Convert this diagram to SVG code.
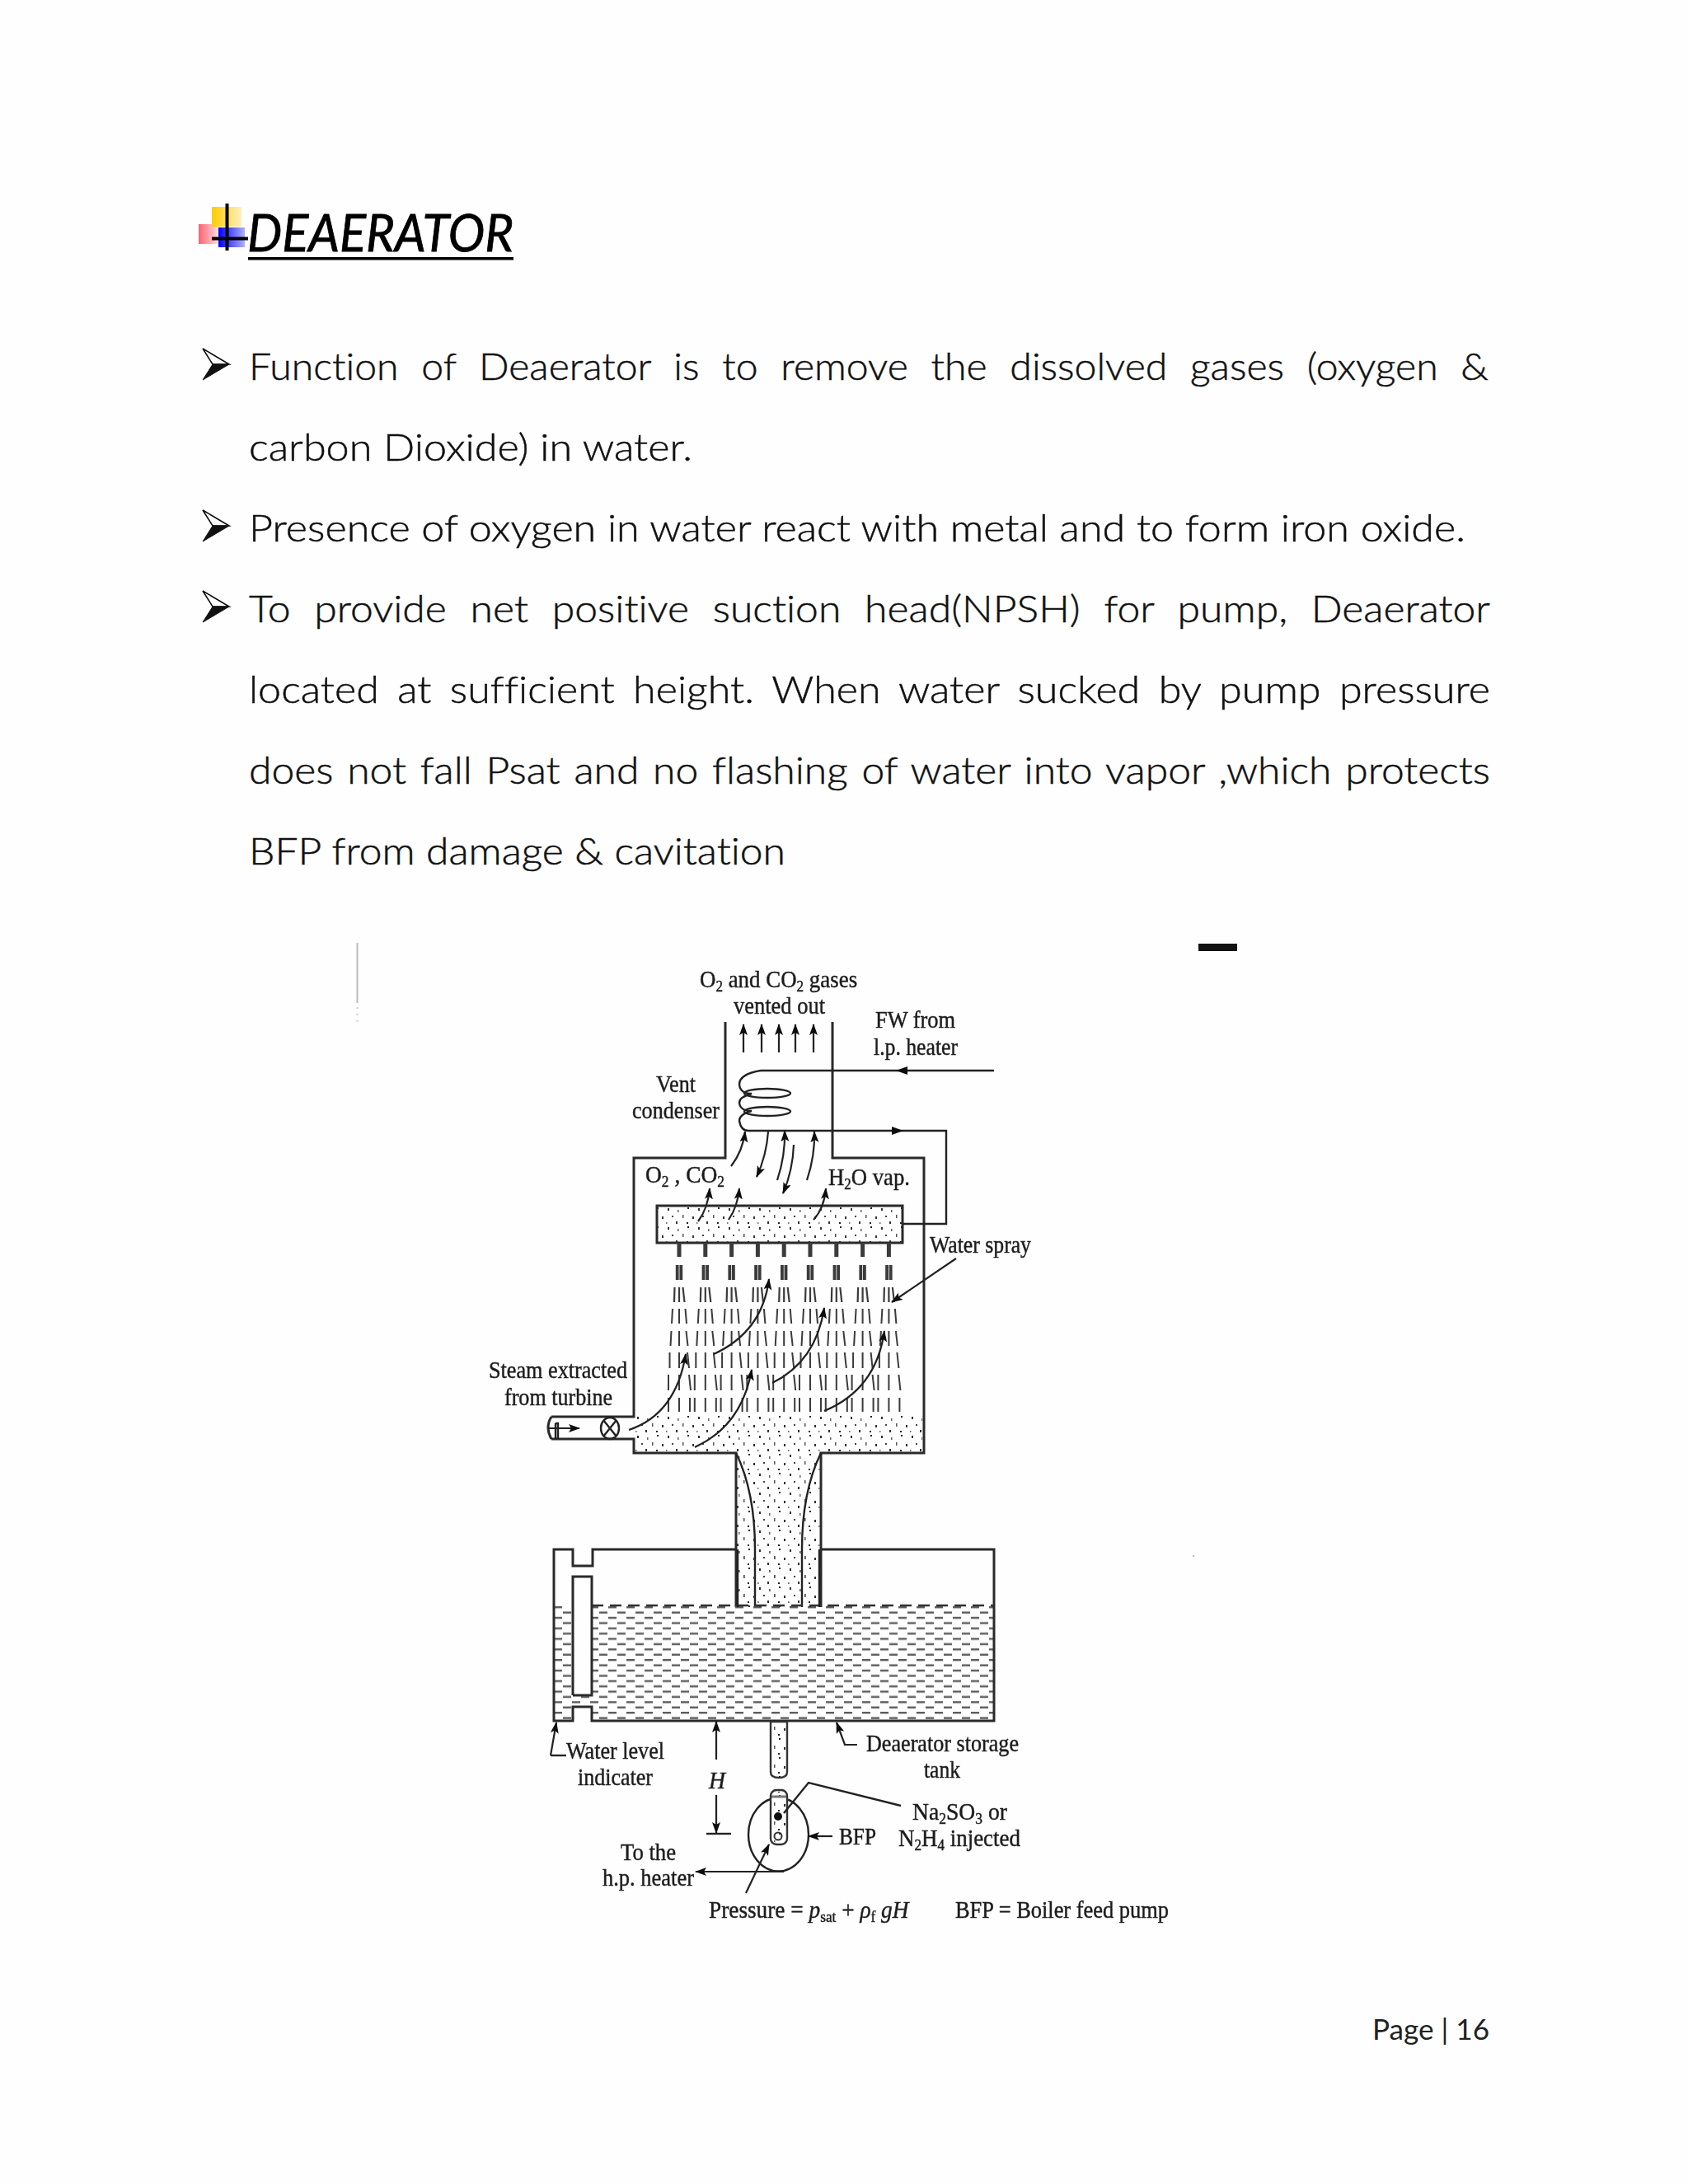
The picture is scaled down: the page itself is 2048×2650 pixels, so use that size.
<svg xmlns="http://www.w3.org/2000/svg" xmlns:xlink="http://www.w3.org/1999/xlink" width="2048" height="2650" viewBox="0 0 2048 2650">
<style>
text{font-variant-ligatures:none}
.b{font-family:"Lato","Open Sans",sans-serif;font-size:46px;font-weight:300;fill:#111;stroke:#111;stroke-width:.5}
.t{font-family:"Liberation Serif",serif;font-size:30px;fill:#1c1c1c;stroke:#1c1c1c;stroke-width:.45}
.s{font-size:19px}
.w{fill:none;stroke:#2a2a2a;stroke-width:3}
.c{fill:none;stroke:#222;stroke-width:2.4}
.a{fill:none;stroke:#222;stroke-width:2.2;marker-end:url(#ah)}
.sp{fill:none;stroke:#3a3a3a;stroke-linecap:butt}
</style>
<defs>
<marker id="ah" markerUnits="userSpaceOnUse" markerWidth="16" markerHeight="12" refX="13" refY="5" orient="auto"><path d="M0 0L14 5L0 10L3 5Z" fill="#111"/></marker>
<linearGradient id="gy" x1="0" x2="1" y1="0" y2="0"><stop offset="0" stop-color="#fc0"/><stop offset="1" stop-color="#fff0c0"/></linearGradient>
<linearGradient id="gr" x1="0" x2="1" y1="0" y2="0"><stop offset="0" stop-color="#ff6070"/><stop offset="1" stop-color="#ffe8ea"/></linearGradient>
<linearGradient id="gb" x1="0" x2="1" y1="0" y2="0"><stop offset="0" stop-color="#00f"/><stop offset="1" stop-color="#b0b0ff"/></linearGradient>
<pattern id="water" patternUnits="userSpaceOnUse" x="672" y="1949" width="22" height="12.8"><rect x="0" y="0" width="10" height="2.4" fill="#5c5c5c"/><rect x="11" y="6.4" width="10" height="2.4" fill="#5c5c5c"/></pattern>
<pattern id="stip" patternUnits="userSpaceOnUse" x="770" y="1464" width="37" height="23">
<rect x="3" y="2" width="2" height="3" fill="#333"/><rect x="15" y="4" width="1.5" height="3" fill="#666"/><rect x="27" y="1" width="2" height="2" fill="#222"/><rect x="8" y="11" width="2" height="2" fill="#444"/><rect x="21" y="10" width="1.5" height="4" fill="#555"/><rect x="33" y="12" width="2" height="3" fill="#333"/><rect x="13" y="18" width="2" height="3" fill="#333"/><rect x="26" y="19" width="2" height="2" fill="#222"/><rect x="1" y="19" width="1.5" height="2" fill="#777"/>
</pattern>
<filter id="soft" x="-2%" y="-2%" width="104%" height="104%"><feGaussianBlur stdDeviation="0.6"/></filter>
<g id="chev"><path d="M246 423L278 442L258 442Z" fill="#fff" stroke="#111" stroke-width="1.6"/><path d="M246 461L278 442L258 442Z" fill="#111" stroke="#111" stroke-width="1"/></g>
<g id="spray">
<path class="sp" stroke-width="5" d="M0 1508V1525"/>
<path class="sp" stroke-width="3.8" d="M-2.300 1535V1553M2.300 1535V1553"/>
<path class="sp" stroke-width="2.2" d="M-5.500 1562L-6 1580M0 1562V1580M4.500 1562L6.500 1580"/>
<path class="sp" stroke-width="2" d="M-8 1588L-9 1606M0 1588V1606M7.500 1588L9 1606"/>
<path class="sp" stroke-width="2" d="M-9.500 1615L-10.500 1633M0 1615V1633M8.500 1615L10.500 1633"/>
<path class="sp" stroke-width="2" d="M-11.500 1641V1660M0 1641V1660M10 1641L12 1660"/>
<path class="sp" stroke-width="2" d="M-13 1668V1687M0 1668V1687M12 1668L14 1687"/>
<path class="sp" stroke-width="2" d="M-13 1696V1713M0 1696V1713M13 1696V1713"/>
</g>
</defs>
<rect width="2048" height="2650" fill="#fefefe"/>

<g id="heading">
<rect x="241" y="272" width="26" height="24" fill="url(#gr)"/>
<rect x="257" y="251" width="36" height="24" fill="url(#gy)"/>
<rect x="265" y="276" width="32" height="24" fill="url(#gb)"/>
<path d="M275.500 247V304M257 289.500H301" stroke="#000" stroke-width="4" fill="none"/>
<text x="300" y="305" font-family="Lato,'Open Sans',sans-serif" font-size="62" font-style="italic" font-weight="400" fill="#000" stroke="#000" stroke-width=".8" textLength="323" lengthAdjust="spacingAndGlyphs">DEAERATOR</text>
<rect x="301" y="312" width="322" height="3.500" fill="#000"/>
</g>

<g id="body">
<use href="#chev"/>
<use href="#chev" y="196"/>
<use href="#chev" y="294"/>
<text class="b" x="302" y="461" word-spacing="14" textLength="1504" lengthAdjust="spacingAndGlyphs">Function of Deaerator is to remove the dissolved gases (oxygen &amp;</text>
<text class="b" x="302" y="559" textLength="538" lengthAdjust="spacingAndGlyphs">carbon Dioxide) in water.</text>
<text class="b" x="302" y="657" textLength="1476" lengthAdjust="spacingAndGlyphs">Presence of oxygen in water react with metal and to form iron oxide.</text>
<text class="b" x="302" y="755" word-spacing="14" textLength="1506" lengthAdjust="spacingAndGlyphs">To provide net positive suction head(NPSH) for pump, Deaerator</text>
<text class="b" x="302" y="853" word-spacing="8" textLength="1506" lengthAdjust="spacingAndGlyphs">located at sufficient height. When water sucked by pump pressure</text>
<text class="b" x="302" y="951" word-spacing="3" textLength="1506" lengthAdjust="spacingAndGlyphs">does not fall Psat and no flashing of water into vapor ,which protects</text>
<text class="b" x="302" y="1049" textLength="651" lengthAdjust="spacingAndGlyphs">BFP from damage &amp; cavitation</text>
</g>

<g id="scan-marks">
<path d="M433.500 1144V1217" stroke="#bbb" stroke-width="2"/>
<path d="M433.500 1222V1245" stroke="#ccc" stroke-width="2" stroke-dasharray="2 6"/>
<rect x="1454" y="1145" width="47" height="9" fill="#111"/>
<rect x="1447" y="1887" width="2" height="2" fill="#bbb"/>
</g>

<g id="diagram" filter="url(#soft)">
<g id="vessel">
<path d="M771 1715H1119V1762H996V1950H893V1762H771Z" fill="url(#stip)"/>
<rect x="797" y="1464" width="298" height="44" fill="url(#stip)"/>
<path class="w" d="M880 1240V1405H769V1719H669M669 1746H769V1763H893V1950M996 1950V1763H1121V1405H1010V1240"/>
<path class="w" d="M669 1719Q661 1732 669 1746"/>
<path class="c" d="M674 1727H677V1746M674 1727V1746"/>
<ellipse class="c" cx="740" cy="1733" rx="11" ry="13"/>
<path class="c" d="M732 1723L748 1743M748 1723L732 1743"/>
<path class="c" d="M893 1763Q916 1810 916 1880V1950M996 1763Q973 1810 973 1880V1950"/>
<rect class="w" x="797" y="1463" width="298" height="45"/>
</g>
<g id="storage-tank">
<rect x="672" y="1949" width="534" height="139" fill="url(#water)"/>
<rect x="696" y="1913" width="22" height="144" fill="#fefefe"/>
<rect x="696" y="2072" width="22" height="18" fill="#fefefe"/>
<path d="M893 1950H996V1880H893Z" fill="url(#stip)"/>
<path d="M718 1948H1206" stroke="#333" stroke-width="2.400" stroke-dasharray="14 8"/>
<path class="w" d="M893 1880H719V1900H695V1880H672V2088H695V2071H718V2088H1206V1880H996"/>
<path class="w" d="M695 2057V1913H718V2057H695"/>
<path class="c" d="M895 1880V1950M994 1880V1950"/>
</g>
<g id="pump">
<path d="M935 2089V2150Q935 2157 945 2157Q955 2157 955 2150V2089Z" fill="url(#stip)" stroke="#333" stroke-width="2.400"/>
<ellipse class="c" cx="944.500" cy="2226" rx="36.500" ry="44.500"/>
<rect x="935" y="2172" width="20" height="66" rx="7" fill="#fefefe" stroke="#333" stroke-width="2.400"/>
<rect x="937" y="2174" width="16" height="62" rx="6" fill="url(#stip)"/>
<path d="M936 2180H954" stroke="#777" stroke-width="3"/>
<circle cx="944" cy="2204" r="5" fill="#111"/>
<circle cx="944" cy="2228" r="4.500" fill="none" stroke="#333" stroke-width="2"/>
</g>
<g id="connectors">
<path class="a" d="M902 1277V1243"/><path class="a" d="M924 1277V1243"/><path class="a" d="M945 1277V1243"/><path class="a" d="M965 1277V1243"/><path class="a" d="M987 1277V1243"/>
<path class="c" d="M1206 1299H923Q897 1303 897 1316Q898 1327 912 1327Q897 1331 897 1338Q898 1348 912 1348Q897 1352 897 1360Q899 1372 908 1372H1148V1485H1096"/>
<ellipse class="c" cx="931" cy="1326.500" rx="28" ry="5.500"/>
<ellipse class="c" cx="931" cy="1348.500" rx="28" ry="5.500"/>
<path d="M1101 1294L1087 1299L1101 1304Z" fill="#111"/>
<path d="M1082 1367L1096 1372L1082 1377Z" fill="#111"/>
<path class="a" d="M887 1415Q901 1397 904 1373"/>
<path class="a" d="M932 1373Q930 1402 918 1428"/>
<path class="a" d="M943 1432Q953 1402 952 1372"/>
<path class="a" d="M963 1389Q962 1420 950 1448"/>
<path class="a" d="M979 1432Q989 1402 988 1373"/>
<path class="a" d="M847 1482Q859 1466 861 1442"/>
<path class="a" d="M884 1480Q895 1464 897 1442"/>
<path class="a" d="M987 1480Q1000 1466 1002 1442"/>
<use href="#spray" x="824"/><use href="#spray" x="855.800"/><use href="#spray" x="887.600"/><use href="#spray" x="919.400"/><use href="#spray" x="951.200"/><use href="#spray" x="983"/><use href="#spray" x="1014.800"/><use href="#spray" x="1046.600"/><use href="#spray" x="1078.400"/>
<path class="a" d="M763 1735Q820 1716 832 1643"/>
<path class="a" d="M866 1643Q925 1616 933 1552"/>
<path class="a" d="M843 1756Q900 1730 912 1662"/>
<path class="a" d="M937 1678Q990 1652 1000 1587"/>
<path class="a" d="M1000 1712Q1063 1686 1073 1615"/>
<path class="a" d="M665 1733H703"/>
<path class="a" d="M1160 1527L1082 1580"/>
<path class="c" d="M668 2130H687"/>
<path class="a" d="M668 2130L675 2090"/>
<path class="a" d="M1040 2117H1025L1015 2090"/>
<path class="a" d="M869 2135V2089"/>
<path class="a" d="M869 2178V2224"/>
<path class="c" d="M857 2225H887"/>
<path class="a" d="M1010 2228H981"/>
<path class="c" d="M1093 2191L981 2163L951 2200"/>
<path class="a" d="M951 2271H844"/>
<path class="a" d="M905 2297L933 2238"/>
</g>
<g id="labels">
<text class="t" transform="translate(849 1198) scale(.897 1)">O<tspan class="s" dy="5">2</tspan><tspan dy="-5"> and CO</tspan><tspan class="s" dy="5">2</tspan><tspan dy="-5"> gases</tspan></text>
<text class="t" x="890" y="1230" textLength="111" lengthAdjust="spacingAndGlyphs">vented out</text>
<text class="t" x="1062" y="1247" textLength="97" lengthAdjust="spacingAndGlyphs">FW from</text>
<text class="t" x="1060" y="1280" textLength="102" lengthAdjust="spacingAndGlyphs">l.p. heater</text>
<text class="t" x="796" y="1325" textLength="48" lengthAdjust="spacingAndGlyphs">Vent</text>
<text class="t" x="767" y="1357" textLength="106" lengthAdjust="spacingAndGlyphs">condenser</text>
<text class="t" transform="translate(783 1435) scale(.916 1)">O<tspan class="s" dy="5">2</tspan><tspan dy="-5"> , CO</tspan><tspan class="s" dy="5">2</tspan></text>
<text class="t" x="1005" y="1438" textLength="99" lengthAdjust="spacingAndGlyphs">H<tspan class="s" dy="5">2</tspan><tspan dy="-5">O vap.</tspan></text>
<text class="t" x="1128" y="1520" textLength="123" lengthAdjust="spacingAndGlyphs">Water spray</text>
<text class="t" x="593" y="1672" textLength="168" lengthAdjust="spacingAndGlyphs">Steam extracted</text>
<text class="t" x="612" y="1705" textLength="131" lengthAdjust="spacingAndGlyphs">from turbine</text>
<text class="t" x="687" y="2134" textLength="119" lengthAdjust="spacingAndGlyphs">Water level</text>
<text class="t" x="701" y="2166" textLength="91" lengthAdjust="spacingAndGlyphs">indicater</text>
<text class="t" x="1051" y="2125" textLength="185" lengthAdjust="spacingAndGlyphs">Deaerator storage</text>
<text class="t" x="1121" y="2157" textLength="44" lengthAdjust="spacingAndGlyphs">tank</text>
<text class="t" x="860" y="2170" font-style="italic" textLength="20" lengthAdjust="spacingAndGlyphs">H</text>
<text class="t" x="1107" y="2208" textLength="115" lengthAdjust="spacingAndGlyphs">Na<tspan class="s" dy="5">2</tspan><tspan dy="-5">SO</tspan><tspan class="s" dy="5">3</tspan><tspan dy="-5"> or</tspan></text>
<text class="t" x="1090" y="2240" textLength="148" lengthAdjust="spacingAndGlyphs">N<tspan class="s" dy="5">2</tspan><tspan dy="-5">H</tspan><tspan class="s" dy="5">4</tspan><tspan dy="-5"> injected</tspan></text>
<text class="t" x="1018" y="2238" textLength="45" lengthAdjust="spacingAndGlyphs">BFP</text>
<text class="t" x="753" y="2257" textLength="67" lengthAdjust="spacingAndGlyphs">To the</text>
<text class="t" x="731" y="2288" textLength="111" lengthAdjust="spacingAndGlyphs">h.p. heater</text>
<text class="t" transform="translate(860 2327) scale(.91 1)">Pressure = <tspan font-style="italic">p</tspan><tspan class="s" dy="5">sat</tspan><tspan dy="-5"> + </tspan><tspan font-style="italic">ρ</tspan><tspan class="s" dy="5">f</tspan><tspan dy="-5" font-style="italic"> gH</tspan></text>
<text class="t" x="1159" y="2327" textLength="259" lengthAdjust="spacingAndGlyphs">BFP = Boiler feed pump</text>
</g>
</g>

<text id="page-number" x="1665" y="2475" font-family="Lato,'Open Sans',sans-serif" font-size="34" fill="#222" textLength="142" lengthAdjust="spacingAndGlyphs">Page | 16</text>
</svg>
